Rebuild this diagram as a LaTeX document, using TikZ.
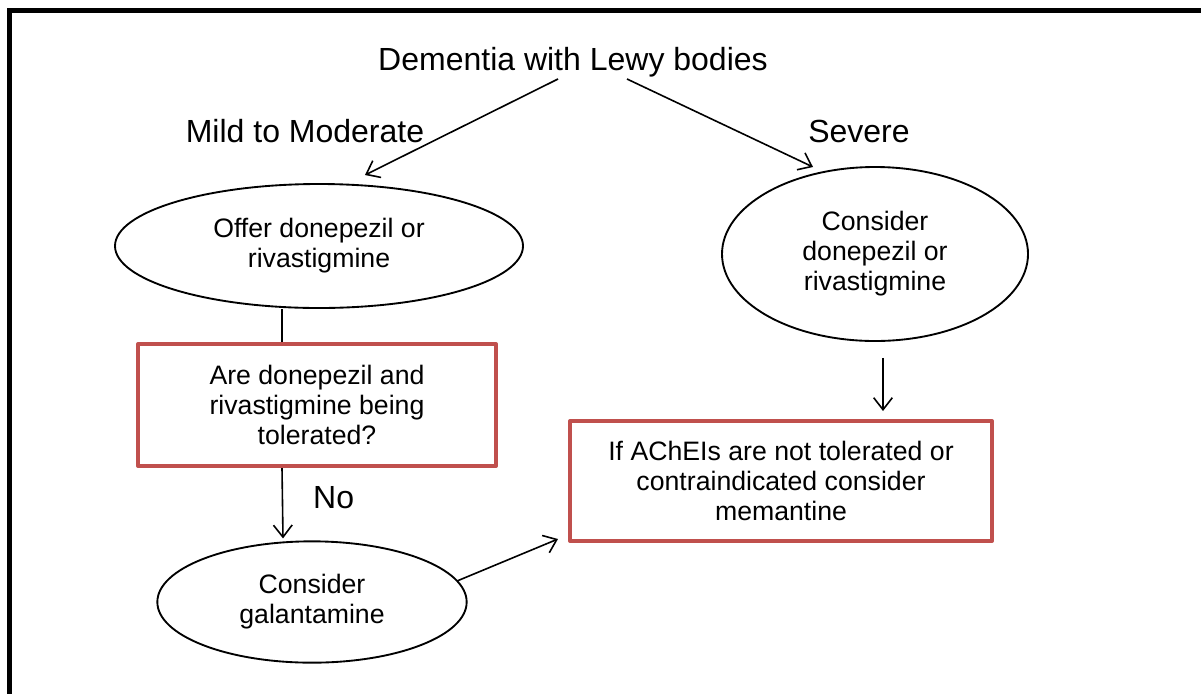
\documentclass[tikz,border=0pt]{standalone}
\usepackage{fontspec}
\setmainfont{Liberation Sans}
\usetikzlibrary{arrows.meta, shapes.geometric, calc}

\definecolor{boxred}{HTML}{C0504D}

\begin{document}
\begin{tikzpicture} [x=0.75pt, y=-0.75pt,
        big/.style = {inner sep=0pt, font=\fontsize{24}{27}\selectfont},
        oval/.style = {ellipse, draw, line width=1.4pt, align=center, inner sep=0pt,
                       font=\fontsize{20}{22.5}\selectfont},
        check/.style = {rectangle, draw=boxred, line width=3pt, line join=round, align=center,
                        inner sep=0pt, font=\fontsize{20}{22.5}\selectfont},
        conn/.style = {line width=1.2pt},
        arr/.style = {conn, -{Straight Barb[length=9pt, width=14pt]}}]
        \useasboundingbox (0,0) rectangle (1201,693);
        \clip (0,0) rectangle (1201,693);

        % frame
        \draw [line width=3.75pt] (9,720) -- (9,10) -- (1230,10);

        \node (dlb) [big] at (573,62) {Dementia with Lewy bodies};
        \node (mild) [big] at (305,131.5) {Mild to Moderate};
        \node (severe) [big] at (859,131.5) {Severe};

        \node (e1) [oval, minimum width=306pt, minimum height=93pt] at (319,246)
            {Offer donepezil or\\rivastigmine};
        \node (e2) [oval, minimum width=229.5pt, minimum height=130.5pt] at (875,254)
            {Consider\\donepezil or\\rivastigmine};
        \node (box1) [check, minimum width=268.5pt, minimum height=91.5pt] at (317,405)
            {Are donepezil and\\rivastigmine being\\tolerated?};
        \node (e3) [oval, minimum width=232pt, minimum height=91pt] at (312,602)
            {Consider\\galantamine};
        \node (box2) [check, minimum width=316.5pt, minimum height=90pt] at (781,481)
            {If AChEIs are not tolerated or\\contraindicated consider\\memantine};

        \draw [arr] ($(dlb)+(-15,17)$) -- ($(e1)+(46,-71)$);
        \draw [arr] ($(dlb)+(54,17)$) -- ($(e2)+(-62,-87)$);
        \draw [conn] ($(e1.south)+(-37,0)$) -- ($(box1.north)+(-35,0)$);
        \draw [arr] ($(box1.south)+(-35,0)$) -- node [big, pos=0.42, right=22.5pt] {No}
            ($(e3.north)+(-29,-2)$);
        \draw [arr] ($(e2.south)+(8,16)$) -- ($(box2.north)+(102,-8)$);
        \draw [arr] ($(e3)+(145,-21)$) -- ($(box2.west)+(-10,58)$);

    \end{tikzpicture}
\end{document}
